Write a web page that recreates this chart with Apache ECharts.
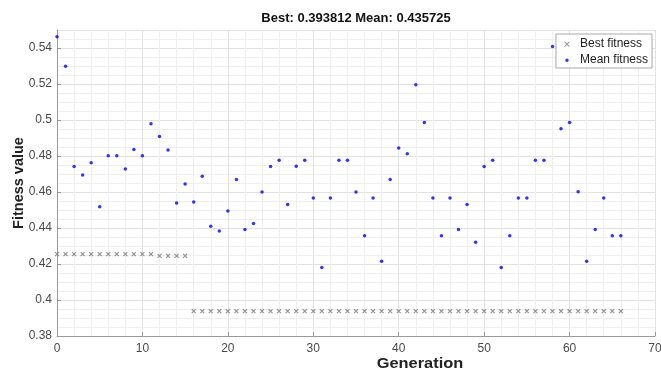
<!DOCTYPE html>
<html>
<head>
<meta charset="utf-8">
<script src="https://cdn.jsdelivr.net/npm/echarts@6/dist/echarts.min.js"></script>
<style>
  html, body { margin: 0; padding: 0; background: #fff; }
  #chart { width: 661px; height: 374px; }
</style>
</head>
<body>
<div id="chart"></div>
<script>
// Genetic algorithm progress: best and mean fitness per generation
const generations = [
  0, 1, 2, 3, 4, 5, 6, 7, 8, 9, 10, 11, 12, 13, 14, 15, 16, 17, 18, 19,
  20, 21, 22, 23, 24, 25, 26, 27, 28, 29, 30, 31, 32, 33, 34, 35, 36, 37, 38, 39,
  40, 41, 42, 43, 44, 45, 46, 47, 48, 49, 50, 51, 52, 53, 54, 55, 56, 57, 58, 59,
  60, 61, 62, 63, 64, 65, 66
];

const bestFitness = [
  0.4255, 0.4255, 0.4255, 0.4255, 0.4255, 0.4255, 0.4255, 0.4255, 0.4255, 0.4255,
  0.4255, 0.4255, 0.4245, 0.4245, 0.4245, 0.4245,
  0.393812, 0.393812, 0.393812, 0.393812, 0.393812, 0.393812, 0.393812, 0.393812,
  0.393812, 0.393812, 0.393812, 0.393812, 0.393812, 0.393812, 0.393812, 0.393812,
  0.393812, 0.393812, 0.393812, 0.393812, 0.393812, 0.393812, 0.393812, 0.393812,
  0.393812, 0.393812, 0.393812, 0.393812, 0.393812, 0.393812, 0.393812, 0.393812,
  0.393812, 0.393812, 0.393812, 0.393812, 0.393812, 0.393812, 0.393812, 0.393812,
  0.393812, 0.393812, 0.393812, 0.393812, 0.393812, 0.393812, 0.393812, 0.393812,
  0.393812, 0.393812, 0.393812
];

const meanFitness = [
  0.5463, 0.5298, 0.4741, 0.4695, 0.4763, 0.4518, 0.4802, 0.4802, 0.4728, 0.4836,
  0.4802, 0.4979, 0.4908, 0.4834, 0.4539, 0.4644, 0.4544, 0.4687, 0.4410, 0.4383,
  0.4494, 0.4670, 0.4392, 0.4425, 0.4600, 0.4741, 0.4776, 0.4531, 0.4743, 0.4776,
  0.4566, 0.4180, 0.4566, 0.4776, 0.4776, 0.4600, 0.4357, 0.4566, 0.4215, 0.4670,
  0.4845, 0.4812, 0.5196, 0.4986, 0.4566, 0.4357, 0.4566, 0.4392, 0.4531, 0.4321,
  0.4741, 0.4776, 0.4180, 0.4357, 0.4566, 0.4566, 0.4776, 0.4776, 0.5408, 0.4951,
  0.4986, 0.4602, 0.4215, 0.4392, 0.4566, 0.4357, 0.435725
];

const xTicks = { min: 0, max: 70, step: 10 };
const yTicks = { min: 0.38, max: 0.55, step: 0.02 };

const FONT = '"Liberation Sans", Arial, Helvetica, sans-serif';
// marker shapes; the corner specks fix the icon box to 14x10 so the glyph sits left of centre
const CROSS_MARK = 'path://M2,3L3,2L5,4L7,2L8,3L6,5L8,7L7,8L5,6L3,8L2,7L4,5Z' +
                   'M0,0L0,0.01L0.01,0ZM10,10L10,9.99L9.99,10Z';
const CROSS_ICON = 'path://M3.2,3.2L3.9,2.5L6,4.6L8.1,2.5L8.8,3.2L6.7,5.3L8.8,7.4L8.1,8.1L6,6L3.9,8.1L3.2,7.4L5.3,5.3Z' +
                   'M0,0L0,0.01L0.01,0ZM14,10L14,9.99L13.99,10Z';
const DOT_ICON = 'path://M6,3.6A1.7,1.7,0,1,1,6,7A1.7,1.7,0,1,1,6,3.6Z' +
                 'M0,0L0,0.01L0.01,0ZM14,10L14,9.99L13.99,10Z';

const last = generations.length - 1;
const titleText = 'Best: ' + bestFitness[last].toFixed(6) +
                  ' Mean: ' + meanFitness[last].toFixed(6);

const W = 661, H = 374;
const grid = { left: 57, right: 6, top: 30, bottom: 38 };
const plotCenterX = grid.left + (W - grid.left - grid.right) / 2;
const plotCenterY = grid.top + (H - grid.top - grid.bottom) / 2;

const chart = echarts.init(document.getElementById('chart'), null, { renderer: 'canvas' });

chart.setOption({
  backgroundColor: '#ffffff',
  animation: false,
  textStyle: { fontFamily: FONT },
  grid: Object.assign({ containLabel: false, outerBoundsMode: 'none' }, grid),
  graphic: [
    {
      type: 'text',
      x: plotCenterX,
      y: 18,
      style: {
        text: titleText,
        align: 'center',
        verticalAlign: 'middle',
        font: 'bold 13px ' + FONT,
        fill: '#111'
      }
    },
    {
      type: 'text',
      x: 420,
      y: 364,
      scaleX: 1.13,
      style: {
        text: 'Generation',
        align: 'center',
        verticalAlign: 'middle',
        font: 'bold 14.5px ' + FONT,
        fill: '#222'
      }
    },
    {
      type: 'text',
      x: 19,
      y: plotCenterY,
      rotation: Math.PI / 2,
      style: {
        text: 'Fitness value',
        align: 'center',
        verticalAlign: 'middle',
        font: 'bold 14.5px ' + FONT,
        fill: '#222'
      }
    }
  ],
  legend: {
    orient: 'vertical',
    right: 9,
    top: 34,
    backgroundColor: '#ffffff',
    borderColor: '#a8a8a8',
    borderWidth: 1,
    padding: [4, 4, 2, 5],
    itemGap: 4,
    itemWidth: 14,
    itemHeight: 10,
    textStyle: { fontSize: 12, color: '#222', fontFamily: FONT },
    data: [
      { name: 'Best fitness', icon: CROSS_ICON },
      { name: 'Mean fitness', icon: DOT_ICON }
    ]
  },
  xAxis: {
    type: 'value',
    min: xTicks.min,
    max: xTicks.max,
    interval: xTicks.step,
    axisLine: { show: true, lineStyle: { color: '#9a9a9a', width: 1 } },
    axisTick: { show: true, inside: true, length: 4, lineStyle: { color: '#9a9a9a' } },
    axisLabel: { color: '#4a4a4a', fontSize: 12, margin: 7, fontFamily: FONT },
    splitLine: { show: true, lineStyle: { color: '#e2e2e2', width: 1 } },
    minorTick: { show: false, splitNumber: 5 },
    minorSplitLine: { show: true, lineStyle: { color: '#efefef', width: 1 } }
  },
  yAxis: {
    type: 'value',
    min: yTicks.min,
    max: yTicks.max,
    interval: yTicks.step,
    axisLine: { show: true, lineStyle: { color: '#9a9a9a', width: 1 } },
    axisTick: { show: true, inside: true, length: 4, lineStyle: { color: '#9a9a9a' } },
    axisLabel: { color: '#4a4a4a', fontSize: 12, margin: 5, showMaxLabel: false, fontFamily: FONT },
    splitLine: { show: true, lineStyle: { color: '#e2e2e2', width: 1 } },
    minorTick: { show: false, splitNumber: 4 },
    minorSplitLine: { show: true, lineStyle: { color: '#efefef', width: 1 } }
  },
  series: [
    {
      name: 'Best fitness',
      type: 'scatter',
      symbol: CROSS_MARK,
      symbolSize: 8,
      itemStyle: { color: '#7a7a7a' },
      data: generations.map((g, i) => [g, bestFitness[i]]),
      z: 3
    },
    {
      name: 'Mean fitness',
      type: 'scatter',
      symbol: 'circle',
      symbolSize: 3.5,
      itemStyle: { color: '#0000ff' },
      data: generations.map((g, i) => [g, meanFitness[i]]),
      z: 4
    }
  ]
});
</script>
</body>
</html>
